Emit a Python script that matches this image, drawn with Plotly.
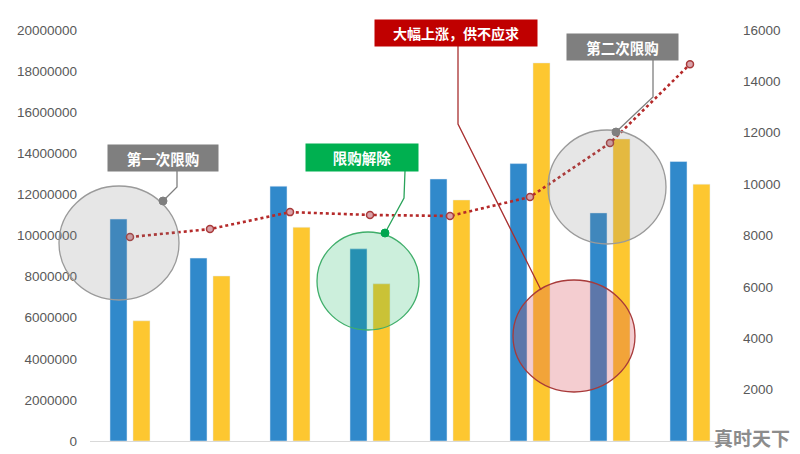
import plotly.graph_objects as go

# ---- data ----
categories = [0, 1, 2, 3, 4, 5, 6, 7]
blue_values = [10800000, 8900000, 12400000, 9350000, 12750000, 13500000, 11100000, 13600000]
yellow_values = [5850000, 8030000, 10400000, 7650000, 11730000, 18400000, 14700000, 12500000]
line_values = [7940, 8250, 8910, 8800, 8760, 9500, 11600, 14670]
left_ticks = [0, 2000000, 4000000, 6000000, 8000000, 10000000, 12000000, 14000000, 16000000, 18000000, 20000000]
right_ticks = [2000, 4000, 6000, 8000, 10000, 12000, 14000, 16000]
callout_texts = ["第一次限购", "限购解除", "大幅上涨，供不应求", "第二次限购"]

W, H = 800, 454
L, R, T, B = 90, 70, 30, 13
PW, PH = W - L - R, H - T - B


def px(x):
    return (x - L) / PW


def py(y):
    return (H - B - y) / PH


fig = go.Figure()
fig.add_trace(go.Bar(x=categories, y=blue_values, marker_color="#3089cb", name="a"))
fig.add_trace(go.Bar(x=categories, y=yellow_values, marker_color="#fdc730", name="b"))
fig.add_trace(go.Scatter(x=categories, y=line_values, yaxis="y2", mode="lines+markers",
                         line=dict(color="#b52a2a", width=2.6, dash="dot"),
                         marker=dict(size=7, color="#d9a3aa", line=dict(color="#a83a3a", width=1.5))))

shapes = []


def circle(cx, cy, rx, ry, fill, line):
    shapes.append(dict(type="circle", xref="paper", yref="paper", layer="above",
                       x0=px(cx - rx), x1=px(cx + rx), y0=py(cy + ry), y1=py(cy - ry),
                       fillcolor=fill, line=dict(color=line, width=1.3)))


def connector(points, color):
    path = "M " + " L ".join(f"{px(a):.5f},{py(b):.5f}" for a, b in points)
    shapes.append(dict(type="path", xref="paper", yref="paper", layer="above",
                       path=path, line=dict(color=color, width=1.3)))


def dot(cx, cy, color, r=4):
    shapes.append(dict(type="circle", xref="paper", yref="paper", layer="above",
                       x0=px(cx - r), x1=px(cx + r), y0=py(cy + r), y1=py(cy - r),
                       fillcolor=color, line=dict(color=color, width=1)))


circle(119, 243, 60, 57, "rgba(128,128,128,0.2)", "#9a9a9a")
circle(368, 281, 51, 49, "rgba(0,176,80,0.2)", "#3fae6a")
circle(574, 336, 61, 56, "rgba(215,70,80,0.27)", "#a83a3a")
circle(607, 187, 59, 57, "rgba(128,128,128,0.2)", "#9a9a9a")

connector([(177, 171), (177, 187), (163, 201)], "#7f7f7f")
dot(163, 201, "#7f7f7f")
connector([(405, 171), (404, 198), (385, 233)], "#2aa35a")
dot(385, 233, "#00a650")
connector([(458, 46), (458, 124), (541, 290)], "#a83030")
connector([(653, 60), (653, 97), (616, 132)], "#7f7f7f")
dot(616, 132, "#7f7f7f")

annotations = []
boxes = [
    (163, 158, 110, 26, "#7f7f7f", 14.5),
    (362, 157.5, 112, 27, "#00b050", 14.5),
    (456, 33, 162, 26, "#c00000", 14),
    (622.5, 47, 111, 26, "#7f7f7f", 14.5),
]
for text, (cx, cy, w, h, col, fs) in zip(callout_texts, boxes):
    annotations.append(dict(xref="paper", yref="paper", x=px(cx), y=py(cy), text=f"<b>{text}</b>",
                            showarrow=False, width=w, height=h, bgcolor=col, borderpad=0,
                            font=dict(color="white", size=fs, family="Noto Sans CJK SC"),
                            xanchor="center", yanchor="middle"))
annotations.append(dict(xref="paper", yref="paper", x=px(752), y=py(437), text="<b>真时天下</b>",
                        showarrow=False, font=dict(color="#8c8c8c", size=19, family="Noto Sans CJK SC"),
                        xanchor="center", yanchor="middle"))

fig.update_layout(
    width=W, height=H,
    margin=dict(l=L, r=R, t=T, b=B),
    plot_bgcolor="white", paper_bgcolor="white",
    showlegend=False,
    barmode="group", bargap=0.425, bargroupgap=0.26,
    font=dict(family="Liberation Sans", size=13.5, color="#595959"),
    xaxis=dict(range=[-0.5, 7.5], showticklabels=False, showgrid=False, zeroline=False, automargin=False,
               showline=True, linecolor="#d9d9d9", linewidth=1, ticks=""),
    yaxis=dict(range=[0, 20000000], tickvals=left_ticks, tickformat="d", showgrid=False, automargin=False,
               zeroline=False, showline=False, ticks="", ticklabelstandoff=12),
    yaxis2=dict(range=[0, 16000], tickvals=right_ticks, tickformat="d", overlaying="y", side="right",
                automargin=False, showgrid=False, zeroline=False, showline=False, ticks="",
                ticklabelstandoff=12),
    shapes=shapes, annotations=annotations,
)

fig.write_html("out.html", config={"displayModeBar": False},
               post_script="document.body.style.margin='0px';document.body.style.overflow='hidden';")
